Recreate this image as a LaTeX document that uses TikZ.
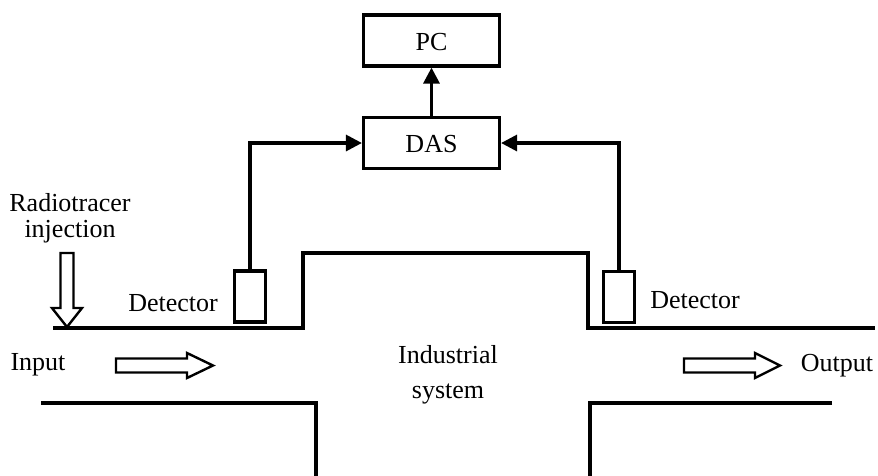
\documentclass[tikz,border=0pt]{standalone}
\usepackage{fontspec}
\setmainfont{Liberation Serif}
\usetikzlibrary{arrows.meta}
\begin{document}
\begin{tikzpicture}[x=1pt,y=-1pt,
  every node/.style={font=\fontsize{26}{30}\selectfont, inner sep=0pt},
  blk/.style={draw, line width=3.2pt, minimum width=136pt, minimum height=51pt},
  det/.style={draw, line width=3.2pt, minimum width=31pt, minimum height=51pt},
  wire/.style={line width=3.2pt, -{Triangle[length=16pt,width=16pt]}},
  pipe/.style={line width=3.2pt},
  hollow/.style={line width=2.4pt, line join=miter},
  lbl/.style={anchor=base}]
\useasboundingbox (0,0) rectangle (878,475);
\fill[white] (0,0) rectangle (878,475);

% boxes
\node[blk] (pc) at (431.5,40.5) {};
\node[lbl] (pct) at (431.5,50) {PC};
\node[blk] (das) at (431.5,143) {};
\node[lbl] (dast) at (431.5,152) {DAS};
\node[det] (detL) at (250,296.5) {};
\node[det] (detR) at (619,297) {};

% connectors
\draw[wire] (das.north) -- (pc.south);
\draw[wire] (detL.north) |- (das.west);
\draw[wire] (detR.north) |- (das.east);

% pipe outline
\draw[pipe] (53,328) -- (303,328) -- (303,253) -- (588,253) -- (588,328) -- (875,328);
\draw[pipe] (41,403) -- (316,403) -- (316,476);
\draw[pipe] (832,403) -- (590,403) -- (590,476);

% hollow arrows
\draw[hollow] (60.5,253) -- (73.5,253) -- (73.5,308) -- (82,308) -- (67,327) -- (52,308) -- (60.5,308) -- cycle;
\draw[hollow] (116,358.5) -- (187,358.5) -- (187,353) -- (213,365.5) -- (187,378) -- (187,372.5) -- (116,372.5) -- cycle;
\draw[hollow] (684,358.5) -- (755,358.5) -- (755,353) -- (780,365.5) -- (755,378) -- (755,372.5) -- (684,372.5) -- cycle;

% labels
\node[lbl] (rad) at (70,211) {Radiotracer};
\node[lbl] (inj) at (70,237) {injection};
\node[lbl] (dl) at (173,311) {Detector};
\node[lbl] (dr) at (695,308) {Detector};
\node[lbl] (in) at (38,370) {Input};
\node[lbl] (out) at (837,371) {Output};
\node[lbl] (ind) at (448,363) {Industrial};
\node[lbl] (sys) at (448,398) {system};
\end{tikzpicture}
\end{document}
